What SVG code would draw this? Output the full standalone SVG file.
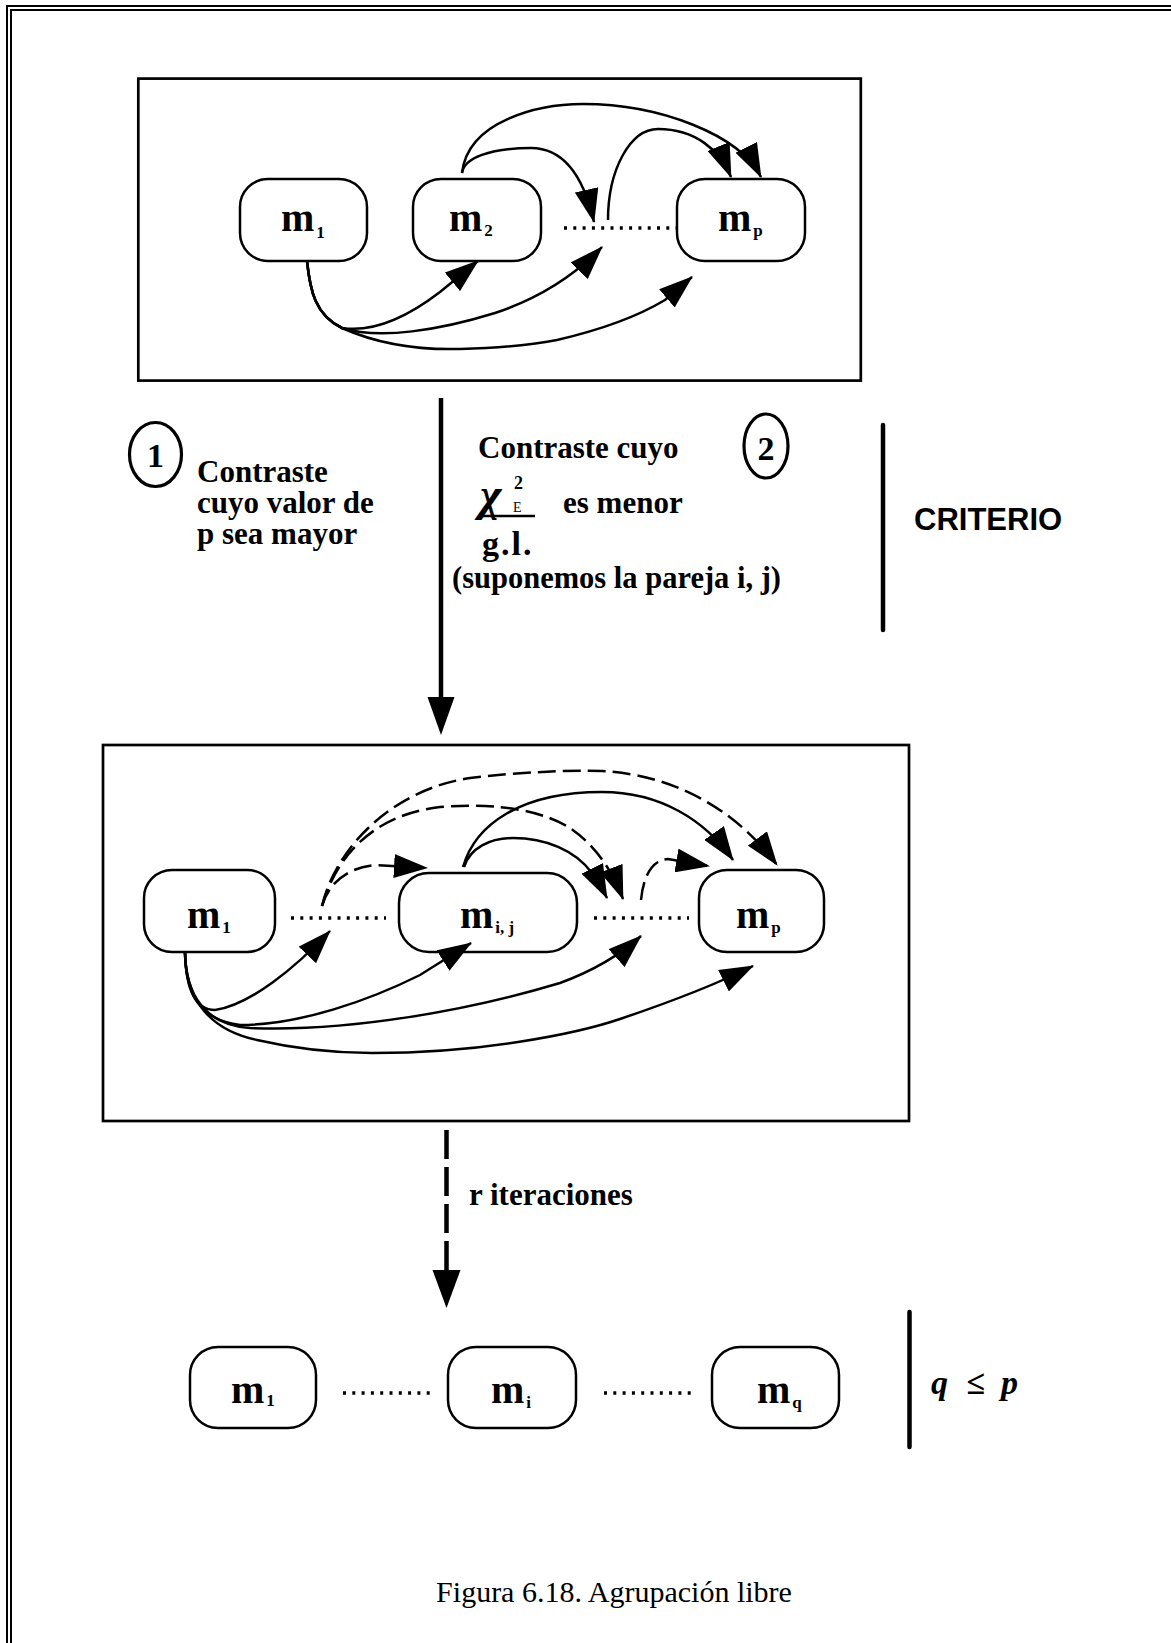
<svg xmlns="http://www.w3.org/2000/svg" width="1171" height="1643" viewBox="0 0 1171 1643">
  <style>
    .frame { fill: none; stroke: #000; stroke-width: 2; }
    .box { fill: none; stroke: #000; stroke-width: 2.7; }
    .node { fill: #fff; stroke: #000; stroke-width: 2.5; }
    .conn { fill: none; stroke: #000; stroke-width: 2.5; marker-end: url(#ah); }
    .dash { stroke-dasharray: 18 7; }
    .dots { stroke: #000; stroke-width: 3.5; stroke-dasharray: 3 6.3; }
    .bar { stroke: #000; stroke-width: 4.5; stroke-linecap: round; }
    .lbl { font-family: "Liberation Serif", "Times New Roman", serif; font-weight: bold; font-size: 40px; fill: #000; }
    .sub { font-size: 17px; }
    .txt { font-family: "Liberation Serif", "Times New Roman", serif; font-weight: bold; font-size: 31px; fill: #000; }
    .num { font-family: "Liberation Serif", "Times New Roman", serif; font-weight: bold; font-size: 34px; fill: #000; text-anchor: middle; }
    .ring { fill: none; stroke: #000; stroke-width: 3.2; }
  </style>
  <defs>
    <marker id="ah" markerUnits="userSpaceOnUse" markerWidth="34" markerHeight="24" viewBox="0 0 34 24" refX="33" refY="12" orient="auto">
      <path d="M0,0 L34,12 L0,24 z" fill="#000"/>
    </marker>
  </defs>

  <!-- page frame (double rule, top and left) -->
  <path class="frame" d="M1171,6 H7 V1643"/>
  <path class="frame" d="M1171,10 H11 V1643"/>

  <!-- stage 1 -->
  <rect id="stage1" class="box" x="138.3" y="78.6" width="722.5" height="302"/>
  <line class="dots" x1="564" y1="228" x2="676" y2="228"/>

  <g id="s1-m1">
    <rect class="node" x="240" y="179" width="127" height="82" rx="28" ry="28"/>
    <text class="lbl" x="281" y="231">m<tspan class="sub" dx="2" dy="7">1</tspan></text>
  </g>
  <g id="s1-m2">
    <rect class="node" x="413" y="179" width="128" height="82" rx="28" ry="28"/>
    <text class="lbl" x="449" y="231">m<tspan class="sub" dx="2" dy="5">2</tspan></text>
  </g>
  <g id="s1-mp">
    <rect class="node" x="677" y="179" width="128" height="82" rx="28" ry="28"/>
    <text class="lbl" x="718" y="231">m<tspan class="sub" dx="2" dy="5">p</tspan></text>
  </g>

  <g id="s1-connectors">
    <path class="conn" d="M307,261 C310,290 315,315 342,328 C375,333 410,315 440,292 L478,261"/>
    <path class="conn" d="M307,261 C310,290 315,315 342,328 C380,340 440,330 495,313 C540,298 575,275 602,247"/>
    <path class="conn" d="M307,261 C310,290 315,315 342,328 C380,345 420,350 460,349 C500,348 530,345 557,340 C600,330 635,318 665,300 L692,277"/>
    <path class="conn" d="M462,173 C464,158 490,148 531,148 C560,148 582,170 594,222"/>
    <path class="conn" d="M462,173 C468,120 540,104 583,104 C660,104 740,135 761,177"/>
    <path class="conn" d="M608,220 C608,170 630,129 658,129 C695,129 720,150 731,177"/>
  </g>

  <!-- step arrow between stages -->
  <g id="step-arrow">
    <line x1="441" y1="398" x2="441" y2="705" stroke="#000" stroke-width="4.5"/>
    <path d="M427.5,697 L454.5,697 L441,735 z" fill="#000"/>
  </g>

  <!-- criteria -->
  <g id="criterion-1">
    <ellipse class="ring" cx="155.5" cy="454.5" rx="26" ry="32"/>
    <text class="num" x="155.5" y="467">1</text>
    <text class="txt" x="197" y="482">Contraste<tspan x="197" dy="31">cuyo valor de</tspan><tspan x="197" dy="31">p sea mayor</tspan></text>
  </g>
  <g id="criterion-2">
    <text class="txt" x="478" y="458">Contraste cuyo</text>
    <ellipse class="ring" cx="766" cy="446" rx="22" ry="32"/>
    <text class="num" x="766" y="460">2</text>
    <text class="txt" x="480" y="510" style="font-size:46px;font-style:italic">χ</text>
    <text class="txt" x="514" y="489" style="font-size:18px">2</text>
    <text class="txt" x="513" y="512" style="font-size:14px;font-weight:normal">E</text>
    <line x1="480" y1="516" x2="535" y2="516" stroke="#000" stroke-width="2.5"/>
    <text class="txt" x="563" y="513">es menor</text>
    <text class="txt" x="482" y="555" style="font-size:34px;letter-spacing:2px">g.l.</text>
    <text class="txt" x="452" y="588" style="font-size:30.5px">(suponemos la pareja i, j)</text>
  </g>
  <g id="criterion-label">
    <line class="bar" x1="883" y1="425" x2="883" y2="630"/>
    <text x="914" y="530" font-family="'Liberation Sans', Arial, sans-serif" font-weight="bold" font-size="31">CRITERIO</text>
  </g>

  <!-- stage 2 -->
  <rect id="stage2" class="box" x="103" y="745" width="806" height="376"/>
  <line class="dots" x1="291" y1="918" x2="386" y2="918"/>
  <line class="dots" x1="594" y1="918" x2="689" y2="918"/>

  <g id="s2-m1">
    <rect class="node" x="144" y="870" width="131" height="82" rx="28" ry="28"/>
    <text class="lbl" x="187" y="928">m<tspan class="sub" dx="2" dy="5">1</tspan></text>
  </g>
  <g id="s2-mij">
    <rect class="node" x="399" y="873" width="178" height="79" rx="30" ry="30"/>
    <text class="lbl" x="460" y="928">m<tspan class="sub" dx="2" dy="5">i, j</tspan></text>
  </g>
  <g id="s2-mp">
    <rect class="node" x="699" y="870" width="125" height="82" rx="28" ry="28"/>
    <text class="lbl" x="736" y="928">m<tspan class="sub" dx="2" dy="5">p</tspan></text>
  </g>

  <g id="s2-connectors">
    <!-- from m1 below -->
    <path class="conn" d="M185,953 C186,990 195,1010 215,1010 C250,1005 295,968 330,931"/>
    <path class="conn" d="M185,953 C186,995 200,1020 240,1025 C300,1025 370,1000 420,975 L471,943"/>
    <path class="conn" d="M185,953 C186,995 205,1025 250,1028 C350,1032 470,1010 560,983 C590,972 620,955 641,936"/>
    <path class="conn" d="M185,953 C186,1000 210,1030 257,1040 C300,1050 340,1053 372,1053 C430,1053 480,1048 518,1042 C570,1034 600,1026 623,1018 C670,1002 715,985 753,966"/>
    <!-- from the left gap above -->
    <path class="conn dash" d="M322,906 C328,885 345,868 375,865 L427,868"/>
    <path class="conn dash" d="M322,906 C335,860 370,815 440,807 C500,802 545,812 570,828 C595,845 612,870 623,899"/>
    <path class="conn dash" d="M322,906 C335,850 390,790 470,778 C520,772 570,770 602,771 C680,775 740,815 777,865"/>
    <!-- from m i,j above -->
    <path class="conn" d="M464,867 C470,848 490,838 513,838 C545,838 575,850 592,873 C598,882 603,890 607,898"/>
    <path class="conn" d="M463,867 C475,825 520,792 602,792 C660,792 705,820 733,860"/>
    <!-- from the right gap above -->
    <path class="conn dash" d="M641,900 C643,880 650,860 668,859 L709,866"/>
  </g>

  <!-- iteration arrow -->
  <g id="iter-arrow">
    <line x1="446.5" y1="1130" x2="446.5" y2="1274" stroke="#000" stroke-width="4.5" stroke-dasharray="29 8"/>
    <path d="M432.5,1270 L460.5,1270 L446.5,1308 z" fill="#000"/>
    <text class="txt" x="469" y="1205">r iteraciones</text>
  </g>

  <!-- final grouping -->
  <line class="dots" x1="343" y1="1393" x2="436" y2="1393"/>
  <line class="dots" x1="604" y1="1393" x2="696" y2="1393"/>
  <g id="f-m1">
    <rect class="node" x="190" y="1347" width="126" height="81" rx="28" ry="28"/>
    <text class="lbl" x="231" y="1403">m<tspan class="sub" dx="2" dy="3">1</tspan></text>
  </g>
  <g id="f-mi">
    <rect class="node" x="448" y="1347" width="128" height="81" rx="28" ry="28"/>
    <text class="lbl" x="491" y="1403">m<tspan class="sub" dx="2" dy="5">i</tspan></text>
  </g>
  <g id="f-mq">
    <rect class="node" x="712" y="1347" width="127" height="81" rx="28" ry="28"/>
    <text class="lbl" x="757" y="1403">m<tspan class="sub" dx="2" dy="5">q</tspan></text>
  </g>
  <g id="result-note">
    <line class="bar" x1="909.5" y1="1312" x2="909.5" y2="1447"/>
    <text class="txt" y="1394" style="font-size:34px;font-style:italic"><tspan x="931">q</tspan><tspan x="966">≤</tspan><tspan x="1001">p</tspan></text>
  </g>

  <!-- caption -->
  <text x="614" y="1602" text-anchor="middle" font-family="'Liberation Serif', 'Times New Roman', serif" font-size="30">Figura 6.18. Agrupación libre</text>
</svg>
